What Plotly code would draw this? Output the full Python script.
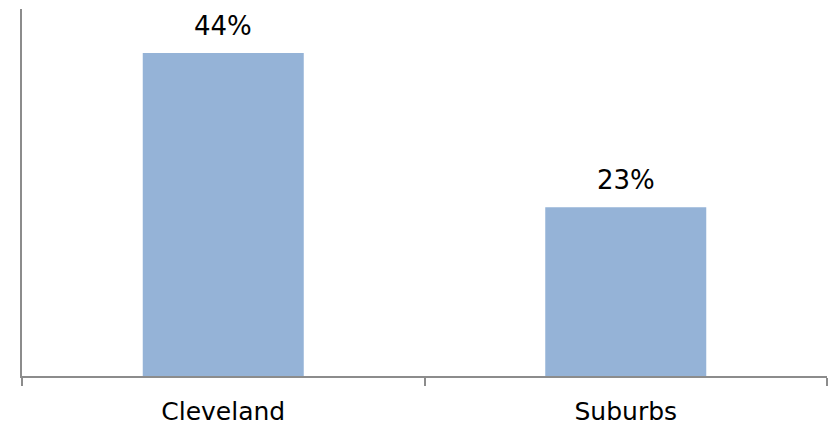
import plotly.graph_objects as go

# Share of respondents by area
categories = ["Cleveland", "Suburbs"]
values = [44, 23]
value_labels = ["44%", "23%"]

BAR_COLOR = "#95B3D7"
AXIS_COLOR = "#8C8C8C"
FONT = "'DejaVu Sans', sans-serif"

fig = go.Figure(
    go.Bar(
        x=categories,
        y=values,
        marker=dict(color=BAR_COLOR, line=dict(width=0)),
        hoverinfo="skip",
    )
)

for cat, val, lab in zip(categories, values, value_labels):
    fig.add_annotation(
        x=cat, y=val, text=lab, showarrow=False,
        yanchor="bottom", yshift=10,
        font=dict(family=FONT, size=26, color="#000000"),
    )

fig.update_layout(
    width=834, height=427,
    margin=dict(l=22, r=7, t=9, b=51),
    paper_bgcolor="white", plot_bgcolor="white",
    bargap=0.6, showlegend=False,
    font=dict(family=FONT, size=25, color="#000000"),
)
fig.update_xaxes(
    type="category", automargin=False,
    showline=True, linecolor=AXIS_COLOR, linewidth=2,
    ticks="outside", tickson="boundaries", ticklen=8, tickwidth=2, tickcolor=AXIS_COLOR,
    ticklabelstandoff=12,
    showgrid=False, zeroline=False,
    tickfont=dict(family=FONT, size=25, color="#000000"),
)
fig.update_yaxes(
    range=[0, 50], automargin=False,
    showline=True, linecolor=AXIS_COLOR, linewidth=2,
    showticklabels=False, ticks="", showgrid=False, zeroline=False,
)

fig.write_html("out.html")
